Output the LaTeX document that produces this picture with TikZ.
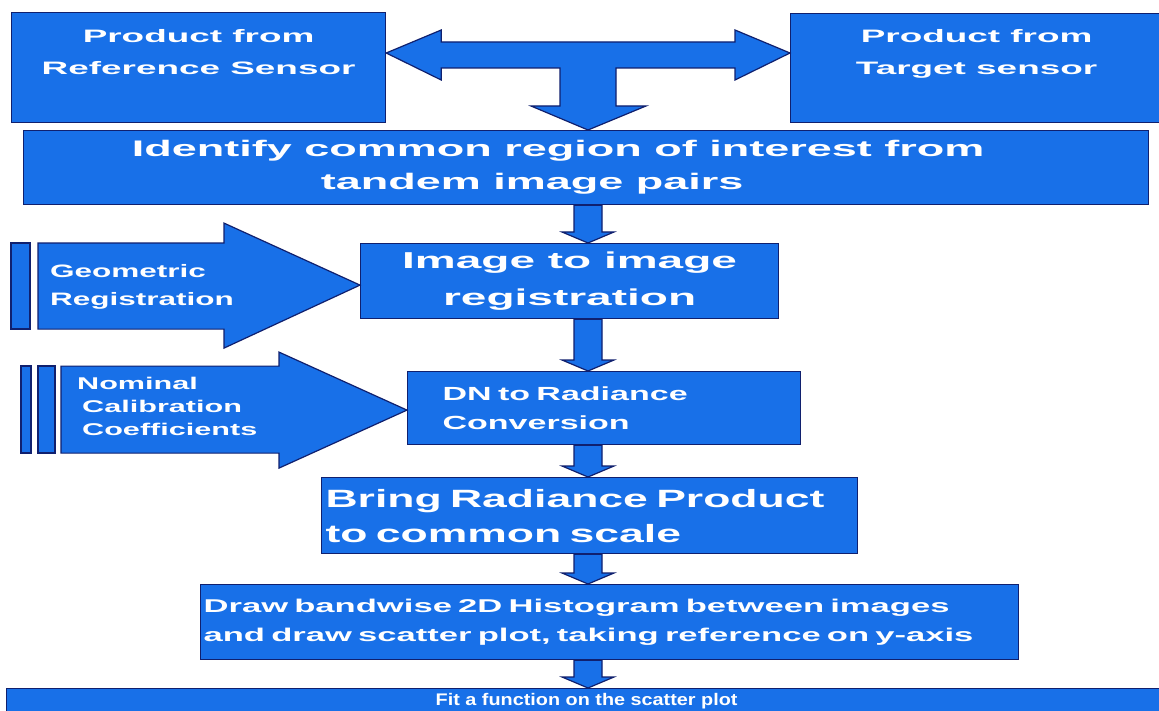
\documentclass[tikz,border=0pt]{standalone}
\usepackage{fontspec}
\setmainfont{Liberation Sans}
\usetikzlibrary{calc}
\definecolor{flowblue}{RGB}{24,112,232}
\definecolor{flowedge}{RGB}{16,32,110}
% size, skip, horizontal stretch
\newcommand{\boxfont}[3]{\fontsize{#1}{#2}\selectfont\bfseries\addfontfeature{FakeStretch=#3}}
% fat down arrow between two boxes, on the spine
\newcommand{\flowdown}[3]{%
  \draw[blockarrow] let \p1=(#1 -| #3), \p2=(#2 -| #3) in
    (\x1-14pt,\y1) -- (\x1+14pt,\y1) -- (\x1+14pt,\y2+11pt) -- (\x1+26pt,\y2+11pt)
    -- (\x2,\y2) -- (\x1-26pt,\y2+11pt) -- (\x1-14pt,\y2+11pt) -- cycle;}
\begin{document}
\begin{tikzpicture}[x=1pt,y=-1pt,line join=miter,
    box/.style={draw=flowedge,fill=flowblue,line width=1.2pt,text=white,inner sep=0pt,anchor=north west},
    blockarrow/.style={draw=flowedge,fill=flowblue,line width=1.2pt},
    lbl/.style={text=white,inner sep=0pt,align=left}]
  \useasboundingbox (0,0) rectangle (1159,711);
  \fill[white] (0,0) rectangle (1159,711);
  \coordinate (tee) at (588,53);
  \coordinate (spine) at (588,0);

  % boxes
  \node[box,minimum width=374pt,minimum height=110pt,align=center,font=\boxfont{18}{32}{2.05}]
    (ref) at (11,12) {Product from\\Reference Sensor\\\mbox{}};
  \node[box,minimum width=372pt,minimum height=109pt,align=center,font=\boxfont{18}{32}{2.05}]
    (tgt) at (790,13) {Product from\\Target sensor\\\mbox{}};
  \node[box,minimum width=1125pt,minimum height=74pt,align=center,font=\boxfont{22.5}{33}{2.0}]
    (roi) at (23,130) {Identify common region of interest from\hspace*{56pt}\\tandem image pairs\hspace*{108pt}};
  \node[box,minimum width=418pt,minimum height=75pt,align=center,font=\boxfont{23}{37}{2.0}]
    (img) at (360,243) {Image to image\\registration};
  \node[box,minimum height=73pt,inner xsep=35pt,text width=323pt,align=left,font=\boxfont{19}{29}{1.79}]
    (dn) at (407,371) {DN to Radiance\\Conversion};
  \node[box,minimum height=76pt,inner xsep=4pt,text width=528pt,align=left,font=\boxfont{25}{35}{1.78}]
    (bring) at (321,477) {Bring Radiance Product\\to common scale};
  \node[box,minimum height=75pt,inner xsep=3pt,text width=812pt,align=left,font=\boxfont{18.5}{29}{1.87}]
    (hist) at (200,584) {Draw bandwise 2D Histogram between images\\and draw scatter plot, taking reference on y-axis};
  \node[box,minimum width=1160pt,minimum height=26pt,align=center,font=\boxfont{16.8}{20}{1.18}]
    (fit) at (6,688) {Fit a function on the scatter plot};

  % inputs on the left
  \draw[box] (11,243) rectangle (30,329);
  \draw[blockarrow] ($(img.west)+(0,4)$) -- ++(-136,63) -- ++(0,-19) -- ++(-186,0)
    -- ++(0,-86) -- ++(186,0) -- ++(0,-20) -- cycle;
  \node[lbl,anchor=west,font=\boxfont{18}{28}{1.75}] (geo) at (50,287) {Geometric\\Registration};
  \draw[box] (21,366) rectangle (31,453);
  \draw[box] (38,366) rectangle (55,453);
  \draw[blockarrow] ($(dn.west)+(0,2)$) -- ++(-128,58) -- ++(0,-15) -- ++(-218,0)
    -- ++(0,-87) -- ++(218,0) -- ++(0,-14) -- cycle;
  \node[lbl,anchor=west,font=\boxfont{17}{23}{1.8}] (nom) at (77,406)
    {Nominal\\\hspace*{5pt}Calibration\\\hspace*{5pt}Coefficients};

  % the tee between the two products
  \draw[blockarrow] (ref.east |- tee) -- ++(55,-23) -- ++(0,12) -- ($(tgt.west |- tee)+(-55,-11)$)
    -- ++(0,-12) -- (tgt.west |- tee) -- ++(-55,27) -- ++(0,-12) -- ($(tee)+(28,15)$)
    -- ($(roi.north -| tee)+(28,-24)$) -- ++(30,0) -- (roi.north -| tee) -- ++(-57,-24)
    -- ++(29,0) -- ($(tee)+(-28,15)$) -- ($(ref.east |- tee)+(55,15)$) -- ++(0,12) -- cycle;

  % down the chain
  \flowdown{roi.south}{img.north}{spine}
  \flowdown{img.south}{dn.north}{spine}
  \flowdown{dn.south}{bring.north}{spine}
  \flowdown{bring.south}{hist.north}{spine}
  \flowdown{hist.south}{fit.north}{spine}
\end{tikzpicture}
\end{document}
